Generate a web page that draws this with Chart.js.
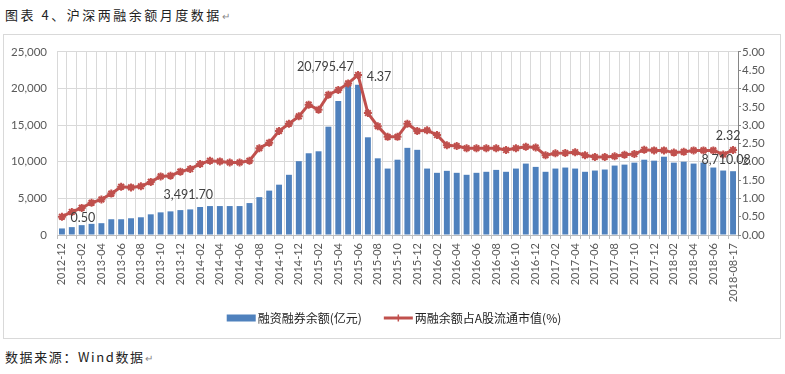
<!DOCTYPE html>
<html>
<head>
<meta charset="utf-8">
<script src="https://cdn.jsdelivr.net/npm/chart.js@4/dist/chart.umd.min.js"></script>
<style>
  html, body { margin: 0; padding: 0; background: #ffffff; }
  body { width: 785px; height: 374px; position: relative; overflow: hidden; font-family: "Noto Sans CJK SC", sans-serif; }
  #title { position: absolute; left: 5px; top: 5px; font-size: 13px; letter-spacing: 2.5px; color: #222; white-space: nowrap; }
  #source { position: absolute; left: 5px; top: 347px; font-size: 13px; letter-spacing: 1.6px; color: #222; white-space: nowrap; }
  #box { position: absolute; left: 3px; top: 34px; width: 778px; height: 305px; border: 1px solid #D9D9D9; box-sizing: border-box; }
  #box canvas { display: block; }
  .ret { color: #888; font-size: 10px; letter-spacing: 0; }
</style>
</head>
<body>
<div id="title">图表 4、沪深两融余额月度数据<span class="ret">↵</span></div>
<div id="box"><canvas id="c" width="776" height="303"></canvas></div>
<div id="source">数据来源：Wind数据<span class="ret">↵</span></div>
<script>
const categories = [
  "2012-12","2013-01","2013-02","2013-03","2013-04","2013-05","2013-06","2013-07","2013-08","2013-09","2013-10","2013-11",
  "2013-12","2014-01","2014-02","2014-03","2014-04","2014-05","2014-06","2014-07","2014-08","2014-09","2014-10","2014-11",
  "2014-12","2015-01","2015-02","2015-03","2015-04","2015-05","2015-06","2015-07","2015-08","2015-09","2015-10","2015-11",
  "2015-12","2016-01","2016-02","2016-03","2016-04","2016-05","2016-06","2016-07","2016-08","2016-09","2016-10","2016-11",
  "2016-12","2017-01","2017-02","2017-03","2017-04","2017-05","2017-06","2017-07","2017-08","2017-09","2017-10","2017-11",
  "2017-12","2018-01","2018-02","2018-03","2018-04","2018-05","2018-06","2018-07","2018-08-17"
];
const marginBalance = [
  895, 1075, 1344, 1523, 1613, 2150, 2150, 2285, 2420, 2823, 3091, 3226,
  3400, 3491.70, 3820, 3950, 3950, 3950, 3950, 4360, 5170, 6060, 6870, 8220,
  10080, 11160, 11430, 14790, 18280, 20795.47, 20500, 13340, 10470, 9070, 10280, 11900,
  11630, 9070, 8490, 8760, 8490, 8220, 8490, 8630, 8890, 8630, 9070, 9750,
  9300, 8630, 9070, 9210, 9070, 8630, 8800, 8940, 9480, 9610, 9880, 10280,
  10150, 10690, 9880, 10010, 9750, 9880, 9210, 8800, 8710.08
];
const marginRatio = [
  0.50, 0.63, 0.74, 0.88, 0.97, 1.13, 1.32, 1.30, 1.33, 1.45, 1.60, 1.62,
  1.73, 1.80, 1.94, 2.03, 2.01, 1.98, 1.98, 2.03, 2.37, 2.52, 2.84, 3.04,
  3.24, 3.56, 3.42, 3.83, 3.96, 4.14, 4.37, 3.33, 2.97, 2.68, 2.68, 3.04,
  2.84, 2.86, 2.73, 2.45, 2.43, 2.37, 2.37, 2.37, 2.37, 2.32, 2.37, 2.41,
  2.39, 2.18, 2.23, 2.24, 2.26, 2.18, 2.13, 2.13, 2.15, 2.19, 2.21, 2.33,
  2.31, 2.31, 2.25, 2.27, 2.31, 2.31, 2.31, 2.20, 2.32
];
const seriesNames = ["融资融券余额(亿元)", "两融余额占A股流通市值(%)"];
const leftTicks = [0, 5000, 10000, 15000, 20000, 25000];
const rightTicks = [0, 0.5, 1, 1.5, 2, 2.5, 3, 3.5, 4, 4.5, 5];
// highlighted data labels: [dataset, index, text]
const valueLabels = [
  [1, 0, "0.50"],
  [0, 13, "3,491.70"],
  [0, 29, "20,795.47"],
  [1, 30, "4.37"],
  [1, 68, "2.32"],
  [0, 68, "8,710.08"]
];

const BLUE = "#4F81BD", RED = "#C0504D";
const labelOffsets = { "0.50": [21, 1], "3,491.70": [-2, -14], "20,795.47": [-23, -16], "4.37": [21, 2], "2.32": [-5, -14], "8,710.08": [-7, -11] };

const labelPlugin = {
  id: "valueLabels",
  afterDatasetsDraw(chart) {
    const ctx = chart.ctx;
    ctx.save();
    ctx.font = "12.5px Lato, 'Liberation Sans', sans-serif";
    ctx.fillStyle = "#404040";
    ctx.textAlign = "center";
    ctx.textBaseline = "middle";
    valueLabels.forEach(([ds, idx, text]) => {
      const el = chart.getDatasetMeta(ds).data[idx];
      const off = labelOffsets[text] || [0, -12];
      ctx.fillText(text, el.x + off[0], el.y + off[1]);
    });
    ctx.restore();
  }
};

const legendPlugin = {
  id: "customLegend",
  afterDraw(chart) {
    const ctx = chart.ctx;
    ctx.save();
    ctx.font = "12px 'Noto Sans CJK SC', sans-serif";
    ctx.textBaseline = "middle";
    ctx.fillStyle = "#222";
    const sw = 29, gap = 2, between = 22;
    const w0 = ctx.measureText(seriesNames[0]).width;
    const w1 = ctx.measureText(seriesNames[1]).width;
    const total = sw + gap + w0 + between + sw + gap + w1;
    let x = (chart.width - total) / 2 + 2;
    const y = 283;
    ctx.fillStyle = BLUE;
    ctx.fillRect(x, y - 3.5, sw, 7);
    x += sw + gap;
    ctx.fillStyle = "#222";
    ctx.fillText(seriesNames[0], x, y);
    x += w0 + between;
    ctx.strokeStyle = RED;
    ctx.lineWidth = 3;
    ctx.beginPath(); ctx.moveTo(x, y); ctx.lineTo(x + sw, y); ctx.stroke();
    ctx.lineWidth = 1.5;
    const cx = x + sw / 2, r = 3.5;
    ctx.beginPath();
    ctx.moveTo(cx - r, y); ctx.lineTo(cx + r, y);
    ctx.moveTo(cx, y - r); ctx.lineTo(cx, y + r);
    ctx.stroke();
    x += sw + gap;
    ctx.fillText(seriesNames[1], x, y);
    ctx.restore();
  }
};

new Chart(document.getElementById("c"), {
  data: {
    labels: categories,
    datasets: [
      {
        type: "bar",
        label: seriesNames[0],
        data: marginBalance,
        backgroundColor: BLUE,
        yAxisID: "y",
        categoryPercentage: 1.0,
        barPercentage: 0.6,
        order: 2
      },
      {
        type: "line",
        label: seriesNames[1],
        data: marginRatio,
        borderColor: RED,
        backgroundColor: RED,
        borderWidth: 3,
        pointStyle: "star",
        pointRadius: 4,
        pointBorderWidth: 2,
        pointBorderColor: RED,
        pointBackgroundColor: RED,
        tension: 0,
        yAxisID: "y1",
        order: 1
      }
    ]
  },
  options: {
    responsive: false,
    animation: false,
    devicePixelRatio: 1,
    layout: { padding: { top: 15, left: 0, right: 0, bottom: 0 } },
    plugins: { legend: { display: false }, tooltip: { enabled: false } },
    scales: {
      x: {
        offset: true,
        grid: { offset: true, color: "#D9D9D9", lineWidth: 1, tickLength: 4, tickColor: "#BFBFBF", drawOnChartArea: true },
        border: { display: true, color: "#BFBFBF" },
        ticks: {
          autoSkip: false,
          maxRotation: 90,
          minRotation: 90,
          padding: 4,
          color: "#595959",
          font: { family: "Lato, 'Liberation Sans', sans-serif", size: 11 },
          callback: function (v, i) { return i % 2 === 0 ? categories[i] : ""; }
        },
        afterFit(scale) { scale.height = 103; }
      },
      y: {
        position: "left",
        min: 0, max: 25000,
        grid: { color: "#D9D9D9", drawTicks: false },
        border: { display: false },
        afterBuildTicks(scale) { scale.ticks = leftTicks.map(v => ({ value: v })); },
        ticks: {
          padding: 10,
          color: "#595959",
          font: { family: "Lato, 'Liberation Sans', sans-serif", size: 11.5 },
          callback: v => v.toLocaleString("en-US")
        },
        afterFit(scale) { scale.width = 53; }
      },
      y1: {
        position: "right",
        min: 0, max: 5,
        grid: { drawOnChartArea: false, tickLength: 3, color: "#868686" },
        border: { display: true, color: "#868686" },
        afterBuildTicks(scale) { scale.ticks = rightTicks.map(v => ({ value: v })); },
        ticks: {
          padding: 1,
          color: "#595959",
          font: { family: "Lato, 'Liberation Sans', sans-serif", size: 11.5 },
          callback: v => Number(v).toFixed(2)
        },
        afterFit(scale) { scale.width = 42; }
      }
    }
  },
  plugins: [labelPlugin, legendPlugin]
});
</script>
</body>
</html>
